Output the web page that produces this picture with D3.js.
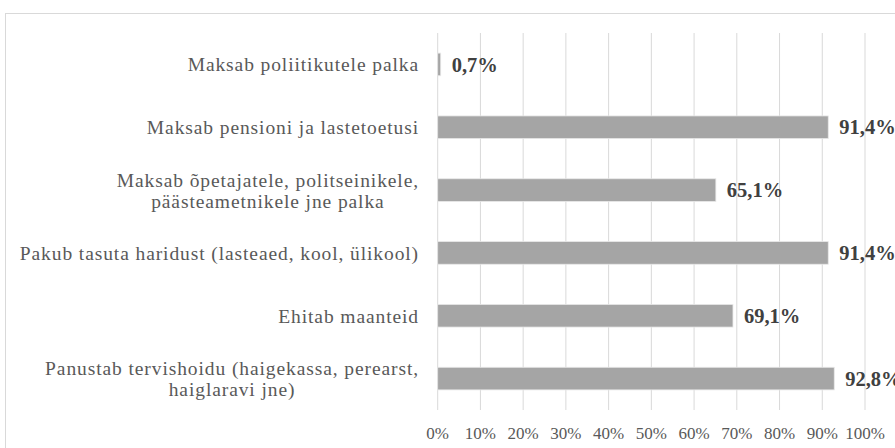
<!DOCTYPE html>
<html>
<head>
<meta charset="utf-8">
<script src="https://cdn.jsdelivr.net/npm/d3@7"></script>
<style>
    body { margin: 0; background: #fff; }
    svg { display: block; }
</style>
</head>
<body>
<div id="chart"></div>
<script>
// chart data, top bar first
const categories = [
    "Maksab poliitikutele palka",
    "Maksab pensioni ja lastetoetusi",
    "Maksab õpetajatele, politseinikele,\npäästeametnikele jne palka",
    "Pakub tasuta haridust (lasteaed, kool, ülikool)",
    "Ehitab maanteid",
    "Panustab tervishoidu (haigekassa, perearst,\nhaiglaravi jne)"
];
const values = [0.7, 91.4, 65.1, 91.4, 69.1, 92.8];
const valueLabels = ["0,7%", "91,4%", "65,1%", "91,4%", "69,1%", "92,8%"];
const ticks = [0, 10, 20, 30, 40, 50, 60, 70, 80, 90, 100];

const width = 895, height = 448;
const margin = { top: 33, right: 30, bottom: 38, left: 437.7 };
const fontFam = "'Liberation Serif', 'Times New Roman', serif";

const svg = d3.select("#chart").append("svg")
    .attr("width", width)
    .attr("height", height);

// outer chart border (runs off the right and bottom of the picture)
svg.append("rect")
    .attr("x", 5.5).attr("y", 13.5)
    .attr("width", 1000).attr("height", 1000)
    .attr("fill", "none")
    .attr("stroke", "#d9d9d9");

const x = d3.scaleLinear()
    .domain([0, 100])
    .range([margin.left, 865]);

const y = d3.scaleBand()
    .domain(categories)
    .range([margin.top, 410])
    .paddingInner(0.64)
    .paddingOuter(0.32);

// gridlines
svg.append("g")
    .selectAll("line")
    .data(ticks)
    .join("line")
    .attr("x1", d => x(d)).attr("x2", d => x(d))
    .attr("y1", margin.top).attr("y2", 410)
    .attr("stroke", "#d9d9d9")
    .attr("stroke-width", 1);

// tick labels
svg.append("g")
    .selectAll("text")
    .data(ticks)
    .join("text")
    .attr("x", d => x(d))
    .attr("y", 439)
    .attr("text-anchor", "middle")
    .style("font-family", fontFam)
    .style("font-size", "17px")
    .attr("fill", "#595959")
    .text(d => d + "%");

// bars
svg.append("g")
    .selectAll("rect")
    .data(categories)
    .join("rect")
    .attr("x", x(0))
    .attr("y", d => y(d))
    .attr("width", (d, i) => x(values[i]) - x(0))
    .attr("height", y.bandwidth())
    .attr("fill", "#a5a5a5")
    .attr("stroke", "#e8e8e8")
    .attr("stroke-width", 0.8);

// value labels
svg.append("g")
    .selectAll("text")
    .data(categories)
    .join("text")
    .attr("x", (d, i) => x(values[i]) + 11)
    .attr("y", d => y(d) + y.bandwidth() / 2)
    .attr("dy", "0.35em")
    .style("font-family", fontFam)
    .style("font-size", "20.5px")
    .style("font-weight", "bold")
    .attr("fill", "#404040")
    .text((d, i) => valueLabels[i]);

// category labels, may be two lines
const catLabels = svg.append("g")
    .selectAll("text")
    .data(categories)
    .join("text")
    .attr("x", 419)
    .attr("y", d => y(d) + y.bandwidth() / 2)
    .attr("text-anchor", "end")
    .style("font-family", fontFam)
    .style("font-size", "19.5px")
    .style("letter-spacing", "0.9px")
    .attr("fill", "#595959");

catLabels.each(function(d) {
    let lines = d.split("\n");
    let el = d3.select(this);
    let cy = y(d) + y.bandwidth() / 2;
    let lh = 21;
    lines.forEach((line, j) => {
        el.append("tspan")
            .attr("x", 419)
            .attr("y", cy + 7 + (j - (lines.length - 1) / 2) * lh)
            .text(line);
    });
});

// wrapped labels: second line is centred under the first
catLabels.each(function(d) {
    let tspans = d3.select(this).selectAll("tspan").nodes();
    if (tspans.length < 2) return;
    let w0 = tspans[0].getComputedTextLength();
    let mid = 419 - w0 / 2;
    d3.selectAll(tspans).attr("x", mid).attr("text-anchor", "middle");
});
</script>
</body>
</html>
